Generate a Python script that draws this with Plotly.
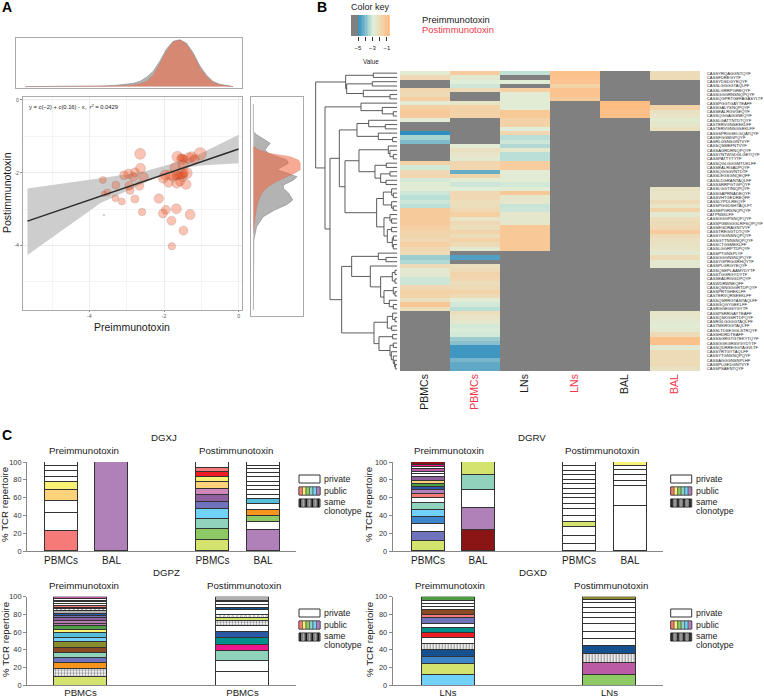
import plotly.graph_objects as go

W, H = 764, 697
FONT = "Liberation Sans"
GREY_FRAME = "#aaaaaa"
RED = "#f0384a"

# ---------- Panel A data ----------
SCATTER_PRE = [-2.64,-2.63,-2.55,-2.78,-2.95,-3.07,-2.82,-2.93,-2.66,-2.91,-3.29,-3.64,-3.52,-3.61,-3.30,-3.13,-2.78,-2.59,-3.61,
               -2.14,-1.95,-2.03,-1.67,-1.80,-1.30,-1.48,-1.79,-1.03,-1.64,-1.26,-1.52,-1.34,-1.18,-1.70,-1.48,-1.39,-1.52,-1.66,
               -1.97,-1.84,-2.02,-1.88,-1.66,-1.41,-1.57,-1.75,-1.50,
               -1.50,-1.55,-1.60,-1.45,-1.50,-1.45,-1.55,-1.70,-1.62]
SCATTER_POST = [-1.48,-1.88,-2.12,-1.99,-2.03,-2.07,-2.12,-2.36,-2.36,-2.49,-2.34,-2.20,-2.54,-2.58,-2.70,-2.79,-2.72,-3.08,-3.16,
                -2.71,-3.02,-3.12,-2.99,-3.32,-3.15,-3.59,-4.02,-1.48,-1.56,-1.56,-1.63,-1.60,-1.63,-1.86,-1.79,-2.01,-2.03,-2.06,
                -2.06,-2.06,-2.15,-2.27,-2.29,-2.32,-2.24,-2.11,-2.11,
                -2.05,-2.08,-2.05,-2.00,-1.60,-1.62,-1.58,-2.12,-2.10]
SCATTER_SIZE = [11,10,9.5,9,9.5,9,9,9,9,8,8,7,7,5.5,7,7,8,7.5,1.5,
                9.5,9,9,10,9,10,9,7.5,12.5,11,10,10.5,11,9.5,10.5,10.5,11,10.5,10,
                10,10,10,9.5,10,10,9,9.5,9.5,
                8,7,7,8,7,7,7,6,6]
BAND_X = [-5.66,-3.71,-2.55,-1.75,-1.03,0]
BAND_UPPER = [-2.43,-2.15,-1.97,-1.74,-1.48,-0.96]
BAND_LOWER = [-4.26,-2.84,-2.29,-1.92,-1.80,-1.74]
FIT_X = [-5.66,0]
FIT_Y = [-3.33,-1.35]

TOP_X = [-5.72,-3.71,-3.26,-2.82,-2.64,-2.46,-2.28,-2.10,-1.93,-1.75,-1.57,-1.39,-1.21,-1.03,-0.86,-0.68,-0.50,-0.14]
TOP_PRE = [0,.003,.015,.035,.06,.11,.25,.5,.75,.95,1,.9,.68,.4,.22,.09,.035,0]
TOP_GREY = [0,.01,.03,.07,.11,.2,.33,.55,.8,.97,1,.93,.72,.44,.25,.11,.05,0]

RIGHT_GREY_Y = [-0.11,-.87,-.96,-1.10,-1.19,-1.28,-1.37,-1.47,-1.56,-1.65,-1.74,-1.83,-1.92,-2.01,-2.11,-2.20,-2.34,-2.43,-2.56,-2.75,-2.88,-3.02,-3.21,-3.48,-3.85,-5.77]
RIGHT_GREY = [0,0,.07,.25,.36,.30,.25,.32,.5,.71,.75,.61,.5,.71,.93,.86,.64,.64,.75,.84,.71,.46,.21,.07,.01,0]
RIGHT_POST_Y = [-1.28,-1.37,-1.47,-1.56,-1.65,-1.74,-1.83,-1.92,-2.01,-2.11,-2.24,-2.38,-2.56,-2.84,-3.21,-3.66]
RIGHT_POST = [.01,.11,.36,.79,.96,1,1,1,.89,.71,.5,.32,.18,.09,.04,0]

# ---------- Panel B data ----------
NA = None
COL_PBMC_PRE = [-2.7,-1.9,NA,NA,-1.8,-2.0,-1.5,-2.7,-1.5,-1.3,
                -1.3,-2.7,NA,NA,-5.0,-3.6,-4.0,NA,NA,NA,
                NA,-1.6,-3.0,-1.9,-1.8,-3.0,-2.7,-2.7,-3.1,-3.4,
                -3.1,-3.4,-1.3,-1.3,-1.3,-1.3,-1.5,-1.7,-1.7,-1.9,
                -1.5,-1.9,-2.0,-3.7,-3.5,-2.0,-2.6,-2.6,-3.1,-3.1,
                -1.9,-1.6,-1.7,-2.2,-1.1,-2.1] + [NA]*14
COL_PBMC_POST = [-1.4,-2.6,-2.8,-3.1,-2.0,NA,NA,-2.4,-1.6,-1.6,
                 -1.6,NA,NA,NA,NA,NA,NA,-2.7,-2.2,-2.4,
                 -2.6,-1.8,-1.8,-4.3,-1.7,-2.7,-3.1,-2.8,-1.9,-1.9,
                 -2.1,-2.1,-1.9,-1.5,-2.4,-1.9,-2.1,-1.7,-2.1,-1.6,
                 -2.0,-2.6,NA,-4.6,NA,-2.2,-2.0,-1.7,-1.8,-2.1,
                 -2.0,-1.6,-2.0,-2.7,-3.0,-3.4,-2.1,-2.4,-2.5,-3.0,
                 -2.9,-3.0,-3.7,-3.9,-4.8,-4.8,-4.8,-4.1,-4.4,-4.4]
COL_LN_PRE = [-3.3,NA,-2.8,NA,-1.5,-2.7,-2.7,-2.7,-2.7,-1.2,
              -1.2,-1.6,-1.6,-2.8,-1.8,-3.4,-3.1,-3.5,-2.5,-3.4,
              -3.4,-1.4,-1.4,-2.7,-2.7,-2.7,-3.0,-2.7,-1.2,-2.5,
              -2.5,-3.2,-3.1,-2.5,-2.5,-2.5,-1.2,-1.2,-1.2,-1.2,
              -1.2,-1.2] + [NA]*28
COL_LN_POST = [-0.9,-1.0,-1.0,-1.6,-1.0,-1.0,-1.3] + [NA]*63
COL_BAL_PRE = [NA]*7 + [-0.7,-0.7,-0.85,-0.85] + [NA]*59
COL_BAL_POST = [-2.0,-2.0] + [NA]*6 + [-1.6,-2.3,
                -2.4,-2.6,-2.5,-2.2] + [NA]*6 + [NA]*7 + [-2.3,-2.4,-2.4,
                -2.0,-2.4,-1.6,-2.6,-2.1,-2.0,-1.9,-1.3,-2.0,-2.2,
                -2.3,-2.4,-2.6,-2.0,-2.6,-2.6] + [NA]*4 + [NA]*6 + [-2.4,-2.5,-2.6,-2.7,
                -2.6,-2.0,-0.9,-0.9,-2.6,-2.0,-2.0,-2.0,-2.0,-2.3]
COLUMN_LABELS = ["PBMCs", f'<span style="color:{RED}">PBMCs</span>', "LNs",
                 f'<span style="color:{RED}">LNs</span>', "BAL", f'<span style="color:{RED}">BAL</span>']
ROW_LABELS = ["CASSYRQAGGNTQYF","CASSFDREGYTF","CASSYDSDGYEQYF","CASSLGGGGTAQLFF","CASSLGRRPGREQYF",
 "CASSGGGRNSNQPQYF","CASSQGPRTGEFAGASYLTF","CASSPGGTGAYTEAFF","CASSGALYSNQPQYF","CASSEALRGVGEQYF",
 "CASSQGGAGGNEQYF","CASSLGATTNTDTQYF","CASTERVGNSEEKLFF","CASTERVGNSGSEKLFF","CASSSPRGGELGQATQYF",
 "CASSFGGMGPQYF","CASRLGSNSGNTVYF","CASSQSMEFNTVYF","CASSAGRDRNQPQYF","CASSYNTWGDGLGETQYF",
 "CASSPATTYTYTF","CASSQGLGGGMTDKLFF","CASSEALRGADPQYF","CASSQGGGVNTDTF","CASSLEGSGNQEQFF",
 "CASSLDGRANTAQLFF","CASSSRRPGTGPQYF","CASSLGGTINIQPQYF","CASSGAPRNADEQYF","CASSVHTGEDREQFF",
 "CASSLYPDLREQYF","CASSPGGDSHTAQLFT","CASSEPGRSNQPQYF","CATPNSKLFF","CASSGGGPSNQPQYF",
 "CASSPGMGGGLRFSQPQYF","CASSEGDRAGNTVYF","CASSTREGGTDTQYF","CASSYGGNSNQPQYF","CASSGTTNNSNQPQYF",
 "CASSCTGSMEKLFF","CASSLGGRPTDPQYF","CASSPTGNSPLYF","CASSGGGNSNQPQYF","CASSYGPRGGRHQYTF",
 "CASSPLGRGYEQYF","CASSQSEPLAAMYDYTF","CASSTGGRGYDYTF","CASSEADRGGDPQYF","CASWDRWNEQFF",
 "CASSQSNGGGRTDPQYF","CASSPRTGHEKLFF","CASTERVQRSEEKLFF","CASSQSRRGTANTAQLFF","CASSGQGYGEKLFF",
 "CASRGGEGSYGYTF","CASSPSRRGAYTEAFF","CASSQSKGSRTDPQYF","CASRGLGGGGTAQLFF","CASTMKRGGTAQLFF",
 "CASSLTDSEGGLSTRQYF","CASSHDRDTEAFF","CASSSGRGTGTEKYTQYF","CASSGGKGRSVGYDYTF","CASSQDRREGGTAGVLTF",
 "CASSYRTGYTAQLFF","CASSYTGNSNQPQYF","CASSAGGGNSNPLHF","CASSPLGEDGNTVYF","CASSPSAENTQYF"]
for _c in (COL_PBMC_PRE, COL_PBMC_POST, COL_LN_PRE, COL_LN_POST, COL_BAL_PRE, COL_BAL_POST, ROW_LABELS):
    assert len(_c) == 70, len(_c)

# merge tree: (merge height, upper child, lower child); integers are rows
DENDRO = (245,
  (155, (72,0,1), (152, (75,2,3), (102,4,(22,5,6)))),
  (217,
    (109,7,(45,8,(12,9,10))),
    (202,
      (174,
        (121,(86,11,(36,12,13)),(57,14,(14,15,16))),
        (157,
          (115,(27,17,(22,18,(12,19,20))),(67,(33,21,22),(50,(22,23,24),(34,25,26)))),
          (62,(42,(17,27,(12,28,29)),(17,30,(12,31,32))),
              (40,(22,33,(17,34,35)),(30,(17,36,37),(15,(12,38,39),(12,40,41))))))),
      (167,
        (137,(57,42,(34,43,44)),
             (81,45,(50,(15,(7,46,47),(7,48,49)),(40,(12,50,(7,51,52)),(24,53,(12,54,55)))))),
        (70,(30,(14,56,(7,57,58)),(17,59,60)),
            (55,(14,61,62),(22,(12,63,64),(18,65,(12,66,(8,67,(6,68,69)))))))))))

KEY_LEVELS = [-5.9,-5.7,-5.5,-5.3,-5.1,-4.9,-4.7,-4.5,-4.3,-4.1,-3.9,-3.7,-3.5,-3.3,-3.1,-2.9,-2.7,-2.5,-2.3,-2.1,-1.9,-1.7,-1.5,-1.3,-1.1,-0.9,-0.7]

# ---------- Panel C data (bottom to top: clone colour, % of repertoire) ----------
DGXJ_PRE_PBMC = [("salmon",23),("white",20),("white",13),("amber",13),("yellow",8),("white",6),("white",7),("white",5),("white",5)]
DGXJ_PRE_BAL = [("purple",100)]
DGXJ_POST_PBMC = [("lime",12.5),("green",12.5),("teal",11),("sky",11),("indigo",8.5),("plum",7.5),("pink",7),("amber",7),("yellow",6),("red",6),("salmon",4),("white",7)]
DGXJ_POST_BAL = [("purple",24),("white",9),("green",6.5),("orange",6.5),("white",7),("cyan",5),("white",5),("white",5),("white",5),("white",5),("white",5),("white",5),("white",4),("white",4),("white",4)]
DGRV_PRE_PBMC = [("lime",11),("indigo",10),("white",9),("blue",8),("sky",8),("teal",8),("white",5),("salmon",5),("purple",4.5),("royal",3.5),("leaf",3),("amber",4),("plum",4),("white",3),("white",3),("magenta",3),("white",2),("hotpink",3),("maroon",3)]
DGRV_PRE_BAL = [("maroon",24),("purple",24),("white",20),("teal",17),("lime",15)]
DGRV_POST_PBMC = [("white",8),("white",9),("white",10),("lime",6),("white",6),("white",8),("white",6),("white",6),("white",5),("white",6),("white",5),("white",5),("white",5),("white",5),("white",5),("white",5)]
DGRV_POST_BAL = [("white",51),("white",22),("white",6),("white",6),("white",6),("white",5),("yellow",4)]
DGPZ_PRE_PBMC = [("lime",10),("dots",8.5),("orange",6.5),("indigo",6),("teal",6),("brown",6),("olive",6),("sky",5),("cyan",5),("yellow",4),("leaf",4),("orchid",3),("orchid",3),("plum",3),("indigo",3),("royal",2),("silver",3),("check",2),("white",2),("salmon",2),("white",2),("white",2),("white",2),("white",2),("magenta",2)]
DGPZ_POST_PBMC = [("white",15),("white",13),("teal",11),("hotpink",7),("sea",8),("royal",6),("white",7),("dots",5.5),("lime",3.5),("check",4),("white",5),("navy",3),("white",3),("white",3),("white",2),("silver",4)]
DGXD_PRE_LN = [("sky",12),("lime",12),("blue",8),("navy",8),("vstripe",7),("white",7),("red",5),("sea",6),("white",5),("indigo",6),("salmon",4),("brown",5),("white",4),("white",3),("white",4),("leaf",4)]
DGXD_POST_LN = [("green",12.5),("magenta",12.5),("vstripe",11),("navy",9),("white",8),("white",8),("white",8),("white",7),("white",6),("white",6),("white",5),("white",4),("olive",3)]

CLONE_COLOURS = dict(white="#ffffff", salmon="#f67a78", amber="#fdd27b", yellow="#f7f174", purple="#b080b8", lime="#d4e26e",
    green="#8dc965", teal="#8fd3bd", sky="#71d1f8", indigo="#6e73bc", plum="#8f5f9f", pink="#d186bc", red="#ee1c25",
    orange="#f7941d", cyan="#55bfda", blue="#3d86cb", royal="#2b57a5", leaf="#4f9e45", magenta="#bc5ba5", hotpink="#ec168c",
    maroon="#8b1414", brown="#8b4a21", olive="#8a8a2e", orchid="#b57bb0", silver="#b0b0b0", sea="#00908c", navy="#15508f")
PATTERNS = dict(dots=".", check="x", vstripe="|")

fig = go.Figure()
layout = {}
_ax = [0]

def new_axes(x0, x1, y0, y1):
    _ax[0] += 1
    n = _ax[0]
    s = "" if n == 1 else str(n)
    layout["xaxis" + s] = dict(domain=[x0 / W, x1 / W], anchor="y" + s)
    layout["yaxis" + s] = dict(domain=[1 - y1 / H, 1 - y0 / H], anchor="x" + s)
    return "x" + s, "y" + s, layout["xaxis" + s], layout["yaxis" + s]

annotations, shapes = [], []

def text(x, y, t, size=9.7, color="#1a1a1a", angle=0, anchor="center", bold=False):
    annotations.append(dict(xref="paper", yref="paper", x=x / W, y=1 - y / H, text=f"<b>{t}</b>" if bold else t,
                            showarrow=False, font=dict(size=size, color=color, family=FONT), textangle=angle,
                            xanchor=anchor, yanchor="middle"))

def rect(x0, y0, x1, y1, fill, line="#333333", lw=1):
    shapes.append(dict(type="rect", xref="paper", yref="paper", x0=x0 / W, x1=x1 / W, y0=1 - y0 / H, y1=1 - y1 / H,
                       fillcolor=fill, line=dict(color=line, width=lw)))

framed = dict(showline=True, mirror=True, linecolor=GREY_FRAME, linewidth=1.2, zeroline=False)

# ---------- Panel A ----------
xa, ya, ax, ay = new_axes(23, 242, 97, 310)
ax.update(framed, range=[-5.78, 0.09], tickvals=[-4, -2, 0], ticktext=["-4", "-2", "0"], ticks="outside", ticklen=1,
          tickcolor="#888", tickfont=dict(size=5.2, color="#555", family=FONT), showgrid=True, gridcolor="#ececec", gridwidth=0.6,
          minor=dict(dtick=1, showgrid=True, gridcolor="#f4f4f4", gridwidth=0.5))
ay.update(framed, range=[-5.77, 0.08], tickvals=[-4, -2, 0], ticktext=["-4", "-2", "0"], ticks="outside", ticklen=2,
          tickcolor="#888", tickfont=dict(size=5.2, color="#555", family=FONT), showgrid=True, gridcolor="#ececec", gridwidth=0.6,
          minor=dict(dtick=1, showgrid=True, gridcolor="#f4f4f4", gridwidth=0.5))
fig.add_trace(go.Scatter(x=BAND_X + BAND_X[::-1], y=BAND_UPPER + BAND_LOWER[::-1], fill="toself", mode="none",
                         fillcolor="#cdcdcd", xaxis=xa, yaxis=ya))
fig.add_trace(go.Scatter(x=SCATTER_PRE, y=SCATTER_POST, mode="markers", xaxis=xa, yaxis=ya,
                         marker=dict(size=SCATTER_SIZE, color="rgba(242,85,40,0.5)", line=dict(color="rgba(110,80,70,0.5)", width=0.5))))
fig.add_trace(go.Scatter(x=FIT_X, y=FIT_Y, mode="lines", line=dict(color="#2b2b2b", width=1.5), xaxis=xa, yaxis=ya))

xa, ya, ax, ay = new_axes(15.6, 242, 38, 88)
ax.update(framed, range=[-5.98, 0.10], showticklabels=False, ticks="", showgrid=False)
ay.update(framed, range=[-0.03, 1.04], showticklabels=False, ticks="", showgrid=False)
fig.add_trace(go.Scatter(x=TOP_X, y=TOP_GREY, fill="tozeroy", fillcolor="#b3b3b3", mode="lines", line=dict(color="#8f8f8f", width=0.7), xaxis=xa, yaxis=ya))
fig.add_trace(go.Scatter(x=TOP_X, y=TOP_PRE, fill="tozeroy", fillcolor="rgba(242,100,60,0.55)", mode="lines", line=dict(color="rgba(200,110,90,0.6)", width=0.5), xaxis=xa, yaxis=ya))

xa, ya, ax, ay = new_axes(251, 303, 97, 316)
ax.update(framed, range=[-0.05, 1.06], showticklabels=False, ticks="", showgrid=False)
ay.update(framed, range=[-5.94, 0.08], showticklabels=False, ticks="", showgrid=False)
fig.add_trace(go.Scatter(x=RIGHT_GREY, y=RIGHT_GREY_Y, fill="tozerox", fillcolor="#b3b3b3", mode="lines", line=dict(color="#8f8f8f", width=0.7), xaxis=xa, yaxis=ya))
fig.add_trace(go.Scatter(x=RIGHT_POST, y=RIGHT_POST_Y, fill="tozerox", fillcolor="rgba(242,100,60,0.55)", mode="lines", line=dict(color="rgba(200,110,90,0.6)", width=0.5), xaxis=xa, yaxis=ya))

text(27, 106, "y = c(−2) + c(0.16) ⋅ x,  r<sup>2</sup> = 0.0429", size=5.8, anchor="left")
text(132, 326.5, "Preimmunotoxin", size=10.5)
text(7, 193, "Postimmunotoxin", size=10.5, angle=-90)

# ---------- Panel B ----------
STOPS = [[0, "#808080"], [0.1699, "#808080"], [0.17, "#2b8cbe"], [0.365, "#7fbacb"], [0.476, "#badfd6"],
         [0.587, "#e0eed8"], [0.70, "#eadfbf"], [0.83, "#f6cfa3"], [1, "#fdb97d"]]
NA_LEVEL = -5.9
columns = [COL_PBMC_PRE, COL_PBMC_POST, COL_LN_PRE, COL_LN_POST, COL_BAL_PRE, COL_BAL_POST]
rows = list(range(len(ROW_LABELS)))
z = [[NA_LEVEL if c[r] is None else c[r] for c in columns] for r in rows]

xa, ya, ax, ay = new_axes(400, 700, 71, 371)
ax.update(range=[-0.5, 5.5], tickvals=list(range(6)), ticktext=COLUMN_LABELS, tickangle=-90, ticks="", showgrid=False,
          zeroline=False, tickfont=dict(size=10.5, color="#1a1a1a", family=FONT))
ay.update(range=[69.5, -0.5], side="right", tickvals=rows, ticktext=ROW_LABELS, ticks="outside", ticklen=5, tickcolor="rgba(0,0,0,0)",
          showgrid=False, zeroline=False, tickfont=dict(size=4.2, color="#222", family=FONT))
fig.add_trace(go.Heatmap(z=z, x=list(range(6)), y=rows, zmin=-5.97, zmax=-0.57, colorscale=STOPS, showscale=False, xaxis=xa, yaxis=ya))

segx, segy = [], []
def walk(node):
    if isinstance(node, int):
        return node, 0
    h, a, b = node
    ya_, ha = walk(a)
    yb_, hb = walk(b)
    segx.extend([ha, h, h, hb, None])
    segy.extend([ya_, ya_, yb_, yb_, None])
    return (ya_ + yb_) / 2, h
walk(DENDRO)
xa, ya, ax, ay = new_axes(313, 397.3, 71, 371)
ax.update(range=[253, 0], visible=False)
ay.update(range=[69.5, -0.5], visible=False)
fig.add_trace(go.Scatter(x=segx, y=segy, mode="lines", line=dict(color="#4a4a4a", width=0.9), xaxis=xa, yaxis=ya, connectgaps=False))

xa, ya, ax, ay = new_axes(351, 390, 15, 36)
ax.update(range=[-5.97, -0.57], tickvals=[-5, -3, -1], ticktext=["−5", "−3", "−1"], ticks="outside", ticklen=4, ticklabelstandoff=2,
          tickwidth=0.7, tickcolor="#333", showgrid=False, zeroline=False, tickfont=dict(size=6, color="#222", family=FONT),
          minor=dict(tickvals=[-4, -2], ticks="outside", ticklen=4, tickwidth=0.7, tickcolor="#333", showgrid=False))
ay.update(range=[0, 1], visible=False)
fig.add_trace(go.Heatmap(z=[KEY_LEVELS], x=KEY_LEVELS, y=[0.5], zmin=-5.97, zmax=-0.57, colorscale=STOPS, showscale=False, xaxis=xa, yaxis=ya))
text(370, 7, "Color key", size=9)
text(370.5, 61, "Value", size=6.3)
text(420, 20, "Preimmunotoxin", size=9.4, anchor="left")
text(420, 29, "Postimmunotoxin", size=9.4, color=RED, anchor="left")

# ---------- Panel C ----------
def bar_panel(axis_left, axis_right, top, bottom, centers, bar_w, labels, bars, standoff=0, label_size=10):
    xa, ya, ax, ay = new_axes(axis_left, axis_right, top, bottom)
    spacing = centers[1] - centers[0]
    slots = [(c - centers[0]) / spacing for c in centers]
    ax.update(range=[(axis_left - centers[0]) / spacing, (axis_right - centers[0]) / spacing], tickvals=slots, ticktext=labels,
              ticks="", showgrid=False, zeroline=False, showline=True, linecolor="#888", linewidth=1, ticklabelstandoff=standoff,
              tickfont=dict(size=label_size, color="#1a1a1a", family=FONT))
    ay.update(range=[0, 100], tickvals=[0, 20, 40, 60, 80, 100], ticks="outside", ticklen=3, tickcolor="#888", showgrid=False,
              zeroline=False, showline=True, linecolor="#888", linewidth=1, tickfont=dict(size=7.4, color="#333", family=FONT))
    for slot, segs in zip(slots, bars):
        for clone, val in segs:
            m = dict(line=dict(color="#333333", width=1))
            if clone in PATTERNS:
                m["color"] = "#ffffff"
                m["pattern"] = dict(shape=PATTERNS[clone], fgcolor="#222", bgcolor="#ffffff", size=3, solidity=0.45)
            else:
                m["color"] = CLONE_COLOURS[clone]
            fig.add_trace(go.Bar(x=[slot], y=[val], width=bar_w / spacing, marker=m, xaxis=xa, yaxis=ya))

def legend(x, y):
    rect(x, y, x + 21, y + 8, "#ffffff")
    rect(x, y + 12, x + 21, y + 20, "#ffffff")
    for i, c in enumerate(["salmon", "yellow", "green", "teal", "sky", "purple"]):
        rect(x + i * 3.5, y + 12, x + (i + 1) * 3.5, y + 20, CLONE_COLOURS[c], line="#333", lw=0.5)
    rect(x, y + 24, x + 21, y + 32, "#8a8a8a")
    for i in range(7):
        rect(x + 0.5 + i * 3, y + 24, x + 2 + i * 3, y + 32, "#111" if i % 2 == 0 else "#bbb", line="#333", lw=0.3)
    text(x + 23, y + 3.5, "private", size=8.8, anchor="left")
    text(x + 23, y + 15.5, "public", size=8.8, anchor="left")
    text(x + 23, y + 26.5, "same", size=8.8, anchor="left")
    text(x + 23, y + 35.5, "clonotype", size=8.8, anchor="left")

bar_panel(27, 296, 462, 551, [61, 111.5, 212.5, 263], 33, ["PBMCs", "BAL", "PBMCs", "BAL"],
          [DGXJ_PRE_PBMC, DGXJ_PRE_BAL, DGXJ_POST_PBMC, DGXJ_POST_BAL])
bar_panel(392.7, 663, 462, 551, [428, 478, 579, 630], 33, ["PBMCs", "BAL", "PBMCs", "BAL"],
          [DGRV_PRE_PBMC, DGRV_PRE_BAL, DGRV_POST_PBMC, DGRV_POST_BAL])
bar_panel(27, 296, 596.7, 685.3, [80.5, 242.5], 53, ["PBMCs", "PBMCs"], [DGPZ_PRE_PBMC, DGPZ_POST_PBMC], standoff=-2, label_size=9.6)
bar_panel(392.7, 663, 596.7, 685.3, [448, 609.5], 53, ["LNs", "LNs"], [DGXD_PRE_LN, DGXD_POST_LN], standoff=-2, label_size=9.6)

for x, y, t in [(164, 437, "DGXJ"), (84, 450, "Preimmunotoxin"), (236, 450, "Postimmunotoxin"),
                (532, 437, "DGRV"), (449, 450, "Preimmunotoxin"), (602, 450, "Postimmunotoxin"),
                (166, 572, "DGPZ"), (84, 585, "Preimmunotoxin"), (244, 585, "Postimmunotoxin"),
                (533, 572, "DGXD"), (450, 585, "Preimmunotoxin"), (611, 585, "Postimmunotoxin")]:
    text(x, y, t)
for x, y in [(5, 505), (369, 505), (5, 640), (369, 640)]:
    text(x, y, "% TCR repertoire", angle=-90)
for x, y in [(299, 475), (670.7, 475), (299, 609), (670.7, 609)]:
    legend(x, y)

text(7, 7, "A", size=14, color="#000", bold=True)
text(322, 7, "B", size=14, color="#000", bold=True)
text(7, 435, "C", size=14, color="#000", bold=True)

layout.update(width=W, height=H, margin=dict(l=0, r=0, t=0, b=0, autoexpand=False), showlegend=False, barmode="stack", paper_bgcolor="white",
              plot_bgcolor="white", font=dict(family=FONT), annotations=annotations, shapes=shapes, bargap=0)
fig.update_layout(**layout)
fig.write_html("out.html", config=dict(displayModeBar=False), post_script="document.body.style.margin='0';")
